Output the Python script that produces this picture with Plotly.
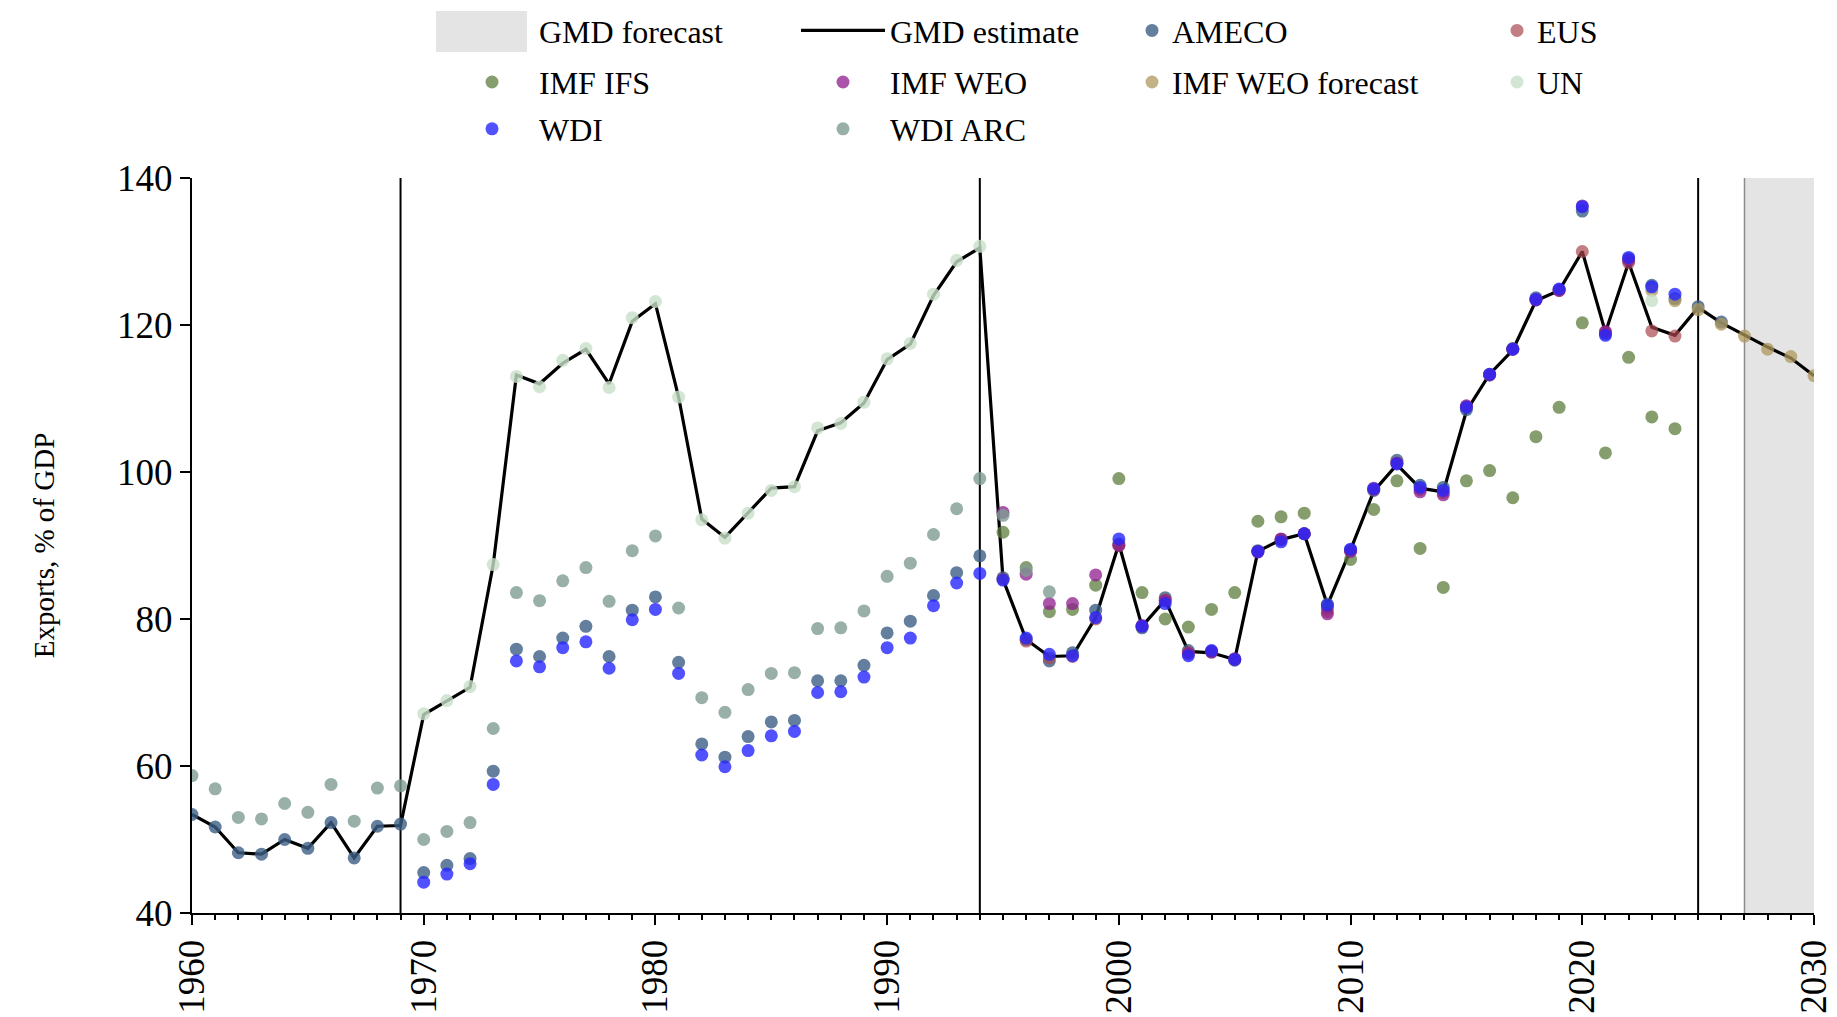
import plotly.graph_objects as go

FONT = "Liberation Serif"

# ---------------- data ----------------
gmd_years = list(range(1960, 2031))
gmd_estimate = [53.4, 51.7, 48.2, 48.0, 50.0, 48.8, 52.3, 47.5, 51.8, 51.9,
                67.0, 68.9, 70.7, 87.4, 113.2, 112.0, 114.8, 116.7, 112.0, 120.5,
                122.9, 110.2, 93.6, 91.1, 94.4, 97.8, 98.0, 105.6, 106.7, 109.4,
                115.3, 117.4, 124.0, 128.6, 130.5, 85.4, 77.2, 74.9, 75.0, 80.2,
                90.2, 79.0, 82.6, 75.6, 75.4, 74.5, 89.2, 90.8, 91.6, 81.9,
                89.4, 97.4, 101.0, 97.8, 97.3, 108.3, 113.3, 116.6, 123.3, 124.7,
                130.0, 119.0, 128.5, 119.7, 118.6, 122.4, 120.3, 118.6, 117.0, 115.5,
                113.1]

ameco_years = list(range(1960, 2027))
ameco = [53.4, 51.7, 48.2, 48.0, 50.0, 48.8, 52.3, 47.5, 51.8, 52.1,
         45.5, 46.5, 47.4, 59.3, 75.9, 74.9, 77.4, 79.0, 74.9, 81.2,
         83.0, 74.1, 63.0, 61.2, 64.0, 66.0, 66.2, 71.6, 71.6, 73.7,
         78.1, 79.7, 83.2, 86.3, 88.6, 85.6, 77.2, 74.3, 75.4, 81.2,
         90.2, 78.8, 82.9, 75.7, 75.6, 74.4, 89.3, 90.8, 91.6, 81.5,
         89.4, 97.5, 101.6, 98.2, 97.9, 108.5, 113.2, 116.8, 123.7, 124.8,
         135.5, 118.8, 129.0, 125.4, 123.6, 122.5, 120.4]

eus_years = list(range(1995, 2025))
eus = [85.4, 77.0, 74.7, 74.9, 80.0, 90.0, 79.0, 82.6, 75.4, 75.5,
       74.5, 89.2, 90.8, 91.6, 81.0, 89.3, 97.6, 101.2, 97.6, 97.2,
       108.9, 113.3, 116.7, 123.4, 124.7, 130.0, 119.0, 128.5, 119.2, 118.5]

ifs_years = list(range(1995, 2025))
imf_ifs = [91.8, 87.0, 81.0, 81.3, 84.6, 99.1, 83.6, 80.0, 78.9, 81.3,
           83.6, 93.3, 93.9, 94.4, 82.0, 88.1, 94.9, 98.8, 89.6, 84.3,
           98.8, 100.2, 96.5, 104.8, 108.8, 120.3, 102.6, 115.6, 107.5, 105.9]

weo_years = list(range(1995, 2023))
imf_weo = [94.5, 86.1, 82.1, 82.1, 86.0, 90.0, 79.1, 82.5, 75.3, 75.5,
           74.6, 89.1, 90.9, 91.6, 80.7, 89.2, 97.8, 101.2, 97.3, 96.9,
           109.0, 113.2, 116.7, 123.4, 124.7, 136.2, 119.1, 128.8]

weo_fc_years = list(range(2023, 2031))
imf_weo_forecast = [124.7, 123.3, 122.1, 120.1, 118.5, 116.7, 115.7, 113.1]

un_years = list(range(1970, 1995)) + [2023]
un = [67.1, 68.9, 70.8, 87.4, 113.0, 111.6, 115.2, 116.8, 111.5, 121.0,
      123.2, 110.2, 93.5, 91.0, 94.4, 97.5, 98.0, 106.0, 106.6, 109.5,
      115.4, 117.5, 124.2, 128.8, 130.7, 123.3]

wdi_years = list(range(1970, 2025))
wdi = [44.2, 45.3, 46.7, 57.5, 74.3, 73.5, 76.1, 76.9, 73.3, 79.9,
       81.3, 72.6, 61.5, 59.9, 62.1, 64.1, 64.7, 70.0, 70.1, 72.1,
       76.1, 77.4, 81.8, 84.9, 86.2, 85.3, 77.4, 75.2, 75.0, 80.2,
       90.9, 79.0, 82.1, 75.0, 75.7, 74.5, 89.2, 90.5, 91.6, 81.9,
       89.5, 97.7, 101.1, 97.9, 97.5, 108.8, 113.3, 116.7, 123.5, 124.9,
       136.1, 118.6, 129.2, 125.2, 124.2]

wdi_arc_years = list(range(1960, 1998))
wdi_arc = [58.7, 56.9, 53.0, 52.8, 54.9, 53.7, 57.5, 52.5, 57.0, 57.3,
           50.0, 51.1, 52.3, 65.1, 83.6, 82.5, 85.2, 87.0, 82.4, 89.3,
           91.3, 81.5, 69.3, 67.3, 70.4, 72.6, 72.7, 78.7, 78.8, 81.1,
           85.8, 87.6, 91.5, 95.0, 99.1, 94.1, 86.6, 83.7]

break_years = [1969, 1994, 2025]
forecast_start, forecast_end = 2027, 2030
x_range = [1960, 2030]
y_range = [40, 140]
y_ticks = [40, 60, 80, 100, 120, 140]
x_ticks = [1960, 1970, 1980, 1990, 2000, 2010, 2020, 2030]

# ---------------- layout helpers ----------------
FORECAST_FILL = "#e4e4e4"
W, H = 1837, 1017
PAGE_OFF = 8                      # default body margin of the html page
ML, MR, MT, MB = 184, 31, 170, 112
PW, PH = W - ML - MR, H - MT - MB

def sx(px):  # screen px -> paper x
    return (px - PAGE_OFF - ML) / PW

def sy(py):  # screen px -> paper y
    return 1 + (PAGE_OFF + MT - py) / PH

LEG_DY = 1
LEFT_X = sx(445)
RIGHT_X = sx(1132)
ROW_Y = [sy(31.6 - LEG_DY), sy(83.2 - LEG_DY), sy(130 - LEG_DY)]
LEFT_COL_W = 252
RIGHT_COL_W = 320

fig = go.Figure()

fig.add_vrect(x0=forecast_start, x1=forecast_end, fillcolor=FORECAST_FILL, opacity=1,
              line=dict(width=0), layer="below")
fig.add_vline(x=forecast_start, line=dict(color="#8c8c8c", width=1.5), layer="below")

for yr in break_years:
    fig.add_vline(x=yr, line=dict(color="black", width=2), layer="below")

# swatch for the forecast band in the legend
fig.add_shape(type="rect", xref="paper", yref="paper",
              x0=sx(436), x1=sx(527), y0=sy(52), y1=sy(11),
              fillcolor=FORECAST_FILL, line=dict(width=0), layer="above")

fig.add_trace(go.Scatter(x=[None], y=[None], mode="lines", name="GMD forecast",
                         line=dict(color="rgba(0,0,0,0)", width=10),
                         legend="legend", legendwidth=LEFT_COL_W, hoverinfo="skip"))

fig.add_trace(go.Scatter(x=gmd_years, y=gmd_estimate, mode="lines", name="GMD estimate",
                         line=dict(color="black", width=3.2), legend="legend"))

marker_series = [
    ("AMECO", ameco_years, ameco, "#3c5f85", 0.8, "legend2", RIGHT_COL_W),
    ("EUS", eus_years, eus, "#a8474d", 0.7, "legend2", None),
    ("IMF IFS", ifs_years, imf_ifs, "#5d7d3c", 0.75, "legend3", LEFT_COL_W),
    ("IMF WEO", weo_years, imf_weo, "#8e1c8e", 0.75, "legend3", None),
    ("IMF WEO forecast", weo_fc_years, imf_weo_forecast, "#ae985c", 0.75, "legend4", RIGHT_COL_W),
    ("UN", un_years, un, "#c8e0c8", 0.8, "legend4", None),
    ("WDI", wdi_years, wdi, "#2525ff", 0.8, "legend5", LEFT_COL_W),
    ("WDI ARC", wdi_arc_years, wdi_arc, "#7f9c94", 0.8, "legend5", None),
]
for name, xs, ys, col, op, lg, lw in marker_series:
    kw = dict(legendwidth=lw) if lw else {}
    fig.add_trace(go.Scatter(x=xs, y=ys, mode="markers", name=name,
                             marker=dict(color=col, size=13, opacity=op, line=dict(width=0)),
                             legend=lg, **kw))

def leg(x, y, iw):
    return dict(orientation="h", x=x, xanchor="left", y=y, yanchor="middle",
                font=dict(family=FONT, size=32, color="black"), itemwidth=iw,
                bgcolor="rgba(0,0,0,0)", borderwidth=0, traceorder="normal",
                itemsizing="trace")

fig.update_layout(
    width=W, height=H,
    paper_bgcolor="white", plot_bgcolor="white",
    margin=dict(l=ML, r=MR, t=MT, b=MB, autoexpand=False),
    font=dict(family=FONT, size=30, color="black"),
    showlegend=True,
    legend=leg(LEFT_X, ROW_Y[0], 84),
    legend2=leg(RIGHT_X, ROW_Y[0], 30),
    legend3=leg(LEFT_X, ROW_Y[1], 84),
    legend4=leg(RIGHT_X, ROW_Y[1], 30),
    legend5=leg(LEFT_X, ROW_Y[2], 84),
)

fig.update_xaxes(range=x_range, tickvals=x_ticks, ticks="outside", ticklen=10, tickwidth=2,
                 tickcolor="black", showline=True, linecolor="black", linewidth=2,
                 showgrid=False, zeroline=False, tickangle=-90, automargin=False,
                 tickfont=dict(family=FONT, size=37),
                 minor=dict(dtick=1, ticks="outside", ticklen=5, tickwidth=1.5,
                            tickcolor="black", showgrid=False))
fig.update_yaxes(range=y_range, tickvals=y_ticks, ticks="outside", ticklen=10, tickwidth=2,
                 tickcolor="black", showline=True, linecolor="black", linewidth=2,
                 showgrid=False, zeroline=False, automargin=False,
                 tickfont=dict(family=FONT, size=37),
                 title=dict(text="Exports, % of GDP", font=dict(family=FONT, size=29), standoff=54))

fig.write_html("out.html")
